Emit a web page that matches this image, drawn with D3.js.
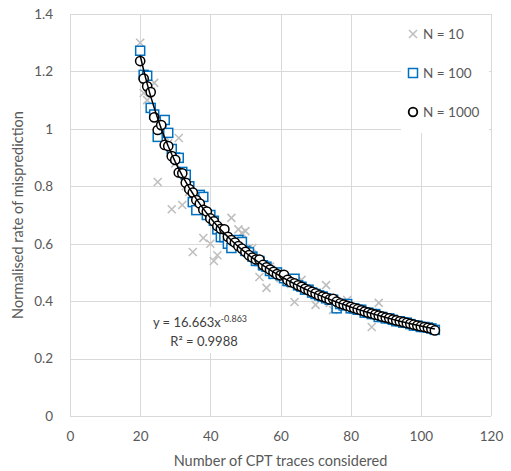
<!DOCTYPE html>
<html>
<head>
<meta charset="utf-8">
<script src="https://cdn.jsdelivr.net/npm/d3@7/dist/d3.min.js"></script>
<style>
  html, body { margin: 0; padding: 0; background: #fff; }
  svg { display: block; }
  text { font-family: Lato, "Open Sans", sans-serif; }
</style>
</head>
<body>
<svg id="chart" width="511" height="471"></svg>
<script>
// Number of CPT traces considered (x values shared by all three runs)
const traces = [20,21,22,23,24,25,26,27,28,29,30,31,32,33,34,35,36,37,38,39,
  40,41,42,43,44,45,46,47,48,49,50,51,52,53,54,55,56,57,58,59,
  60,61,62,63,64,65,66,67,68,69,70,71,72,73,74,75,76,77,78,79,
  80,81,82,83,84,85,86,87,88,89,90,91,92,93,94,95,96,97,98,99,
  100,101,102,103,104];

// Normalised misprediction rate, N = 10
const rateN10 = [1.300,1.125,1.100,1.130,1.160,0.815,1.000,0.975,0.950,0.720,
  0.880,0.968,0.735,0.800,0.780,0.571,0.760,0.730,0.620,0.710,
  0.600,0.540,0.560,0.650,0.640,0.600,0.690,0.610,0.650,0.637,
  0.644,0.585,0.585,0.550,0.484,0.520,0.446,0.520,0.490,0.500,
  0.480,0.490,0.470,0.460,0.397,0.460,0.474,0.440,0.440,0.430,
  0.387,0.420,0.420,0.456,0.394,0.369,0.400,0.390,0.390,0.404,
  0.380,0.370,0.375,0.365,0.360,0.355,0.310,0.355,0.394,0.345,
  0.340,0.340,0.335,0.330,0.330,0.325,0.320,0.320,0.315,0.315,
  0.310,0.310,0.305,0.305,0.300];

// Normalised misprediction rate, N = 100
const rateN100 = [1.272,1.188,1.185,1.073,1.050,0.972,1.000,1.031,0.986,0.930,
  0.900,0.899,0.850,0.840,0.800,0.745,0.717,0.770,0.763,0.700,
  0.700,0.680,0.650,0.623,0.623,0.600,0.585,0.610,0.613,0.606,
  0.575,0.570,0.555,0.540,0.540,0.525,0.520,0.505,0.495,0.500,
  0.490,0.480,0.470,0.468,0.478,0.455,0.450,0.440,0.440,0.430,
  0.425,0.420,0.416,0.410,0.405,0.405,0.375,0.390,0.385,0.390,
  0.375,0.375,0.370,0.370,0.360,0.360,0.355,0.355,0.345,0.345,
  0.340,0.340,0.335,0.330,0.330,0.325,0.325,0.320,0.315,0.315,
  0.310,0.310,0.308,0.305,0.300];

// Normalised misprediction rate, N = 1000
const rateN1000 = [1.236,1.175,1.148,1.128,1.040,0.996,1.013,0.944,0.940,0.905,
  0.892,0.848,0.845,0.812,0.790,0.778,0.752,0.740,0.718,0.712,
  0.688,0.678,0.662,0.652,0.650,0.624,0.613,0.604,0.592,0.583,
  0.572,0.560,0.552,0.545,0.545,0.526,0.518,0.510,0.502,0.494,
  0.490,0.492,0.474,0.466,0.462,0.455,0.450,0.443,0.438,0.432,
  0.427,0.420,0.416,0.412,0.406,0.408,0.398,0.392,0.388,0.384,
  0.380,0.376,0.372,0.368,0.364,0.360,0.357,0.353,0.350,0.346,
  0.343,0.340,0.336,0.333,0.330,0.327,0.324,0.321,0.318,0.315,
  0.312,0.310,0.307,0.304,0.298];

// Power trendline fitted to the N = 1000 run
const fitA = 16.663, fitB = -0.863, fitR2 = 0.9988;

const xTicks = [0, 20, 40, 60, 80, 100, 120];
const yTicks = [0, 0.2, 0.4, 0.6, 0.8, 1, 1.2, 1.4];
const seriesNames = ["N = 10", "N = 100", "N = 1000"];

const svg = d3.select("#chart");
const plot = { left: 70, right: 491, top: 14, bottom: 416 };

const x = d3.scaleLinear().domain([0, 120]).range([plot.left, plot.right]);
const y = d3.scaleLinear().domain([0, 1.4]).range([plot.bottom, plot.top]);

const gridColor = "#d9d9d9";
const labelColor = "#595959";

// Gridlines
const grid = svg.append("g");
grid.selectAll("line.h").data(yTicks).join("line")
  .attr("x1", plot.left).attr("x2", plot.right)
  .attr("y1", d => Math.round(y(d)) + 0.5).attr("y2", d => Math.round(y(d)) + 0.5)
  .attr("stroke", gridColor).attr("stroke-width", 1);
grid.selectAll("line.v").data(xTicks).join("line")
  .attr("y1", plot.top).attr("y2", plot.bottom)
  .attr("x1", d => Math.round(x(d)) + 0.5).attr("x2", d => Math.round(x(d)) + 0.5)
  .attr("stroke", gridColor).attr("stroke-width", 1);

// Axes (labels only, lines come from the grid)
const xAxis = svg.append("g")
  .attr("transform", `translate(0,${plot.bottom + 12})`)
  .call(d3.axisBottom(x).tickValues(xTicks).tickSize(0).tickFormat(d3.format("d")));
const yAxis = svg.append("g")
  .attr("transform", `translate(${plot.left - 14},0)`)
  .call(d3.axisLeft(y).tickValues(yTicks).tickSize(0).tickFormat(d => String(d)));
[xAxis, yAxis].forEach(g => {
  g.select(".domain").remove();
  g.selectAll("text").attr("fill", labelColor).style("font-size", "13.5px")
    .style("font-family", "Lato, 'Open Sans', sans-serif");
});
xAxis.selectAll("text").attr("dy", "0.71em");

// Axis titles
svg.append("text")
  .attr("x", (plot.left + plot.right) / 2).attr("y", 466)
  .attr("text-anchor", "middle").attr("fill", labelColor)
  .style("font-size", "14.5px").text("Number of CPT traces considered");
svg.append("text")
  .attr("transform", `translate(23,${(plot.top + plot.bottom) / 2}) rotate(-90)`)
  .attr("text-anchor", "middle").attr("fill", labelColor)
  .style("font-size", "14.5px").text("Normalised rate of misprediction");

// Series markers
const crossPath = s => `M${-s},${-s}L${s},${s}M${-s},${s}L${s},${-s}`;

svg.append("g").selectAll("path").data(traces.map((t, i) => [t, rateN10[i]])).join("path")
  .attr("transform", d => `translate(${x(d[0])},${y(d[1])})`)
  .attr("d", crossPath(4))
  .attr("stroke", "#bfbfbf").attr("stroke-width", 1.6).attr("fill", "none");

svg.append("g").selectAll("rect").data(traces.map((t, i) => [t, rateN100[i]])).join("rect")
  .attr("x", d => x(d[0]) - 4.5).attr("y", d => y(d[1]) - 4.5)
  .attr("width", 9).attr("height", 9)
  .attr("stroke", "#0070c0").attr("stroke-width", 1.5).attr("fill", "#fff");

svg.append("g").selectAll("circle").data(traces.map((t, i) => [t, rateN1000[i]])).join("circle")
  .attr("cx", d => x(d[0])).attr("cy", d => y(d[1])).attr("r", 4.6)
  .attr("stroke", "#000").attr("stroke-width", 1.5).attr("fill", "#fff");

// Power trendline
const fitLine = d3.line().x(d => x(d)).y(d => y(fitA * Math.pow(d, fitB)));
svg.append("path").datum(traces)
  .attr("d", fitLine).attr("fill", "none")
  .attr("stroke", "#000").attr("stroke-width", 1.5);

// Trendline equation box
const eq = svg.append("g");
eq.append("rect").attr("x", 152).attr("y", 307).attr("width", 100).attr("height", 46).attr("fill", "#fff");
const eqText = eq.append("text").attr("x", 200).attr("y", 327)
  .attr("text-anchor", "middle").attr("fill", "#404040").style("font-size", "13px");
eqText.append("tspan").text(`y = ${fitA}x`);
eqText.append("tspan").attr("dy", -5).style("font-size", "9px").text(fitB);
eq.append("text").attr("x", 204).attr("y", 346)
  .attr("text-anchor", "middle").attr("fill", "#404040").style("font-size", "13px")
  .text(`R² = ${fitR2}`);

// Legend
const legend = svg.append("g");
legend.append("rect").attr("x", 401).attr("y", 15).attr("width", 88).attr("height", 118).attr("fill", "#fff");
const rows = legend.selectAll("g.item").data(seriesNames).join("g")
  .attr("transform", (d, i) => `translate(413,${34 + i * 39})`);
rows.each(function(d, i) {
  const g = d3.select(this);
  if (i === 0) {
    g.append("path").attr("d", crossPath(4)).attr("stroke", "#bfbfbf").attr("stroke-width", 1.6);
  } else if (i === 1) {
    g.append("rect").attr("x", -4.5).attr("y", -4.5).attr("width", 9).attr("height", 9)
      .attr("stroke", "#0070c0").attr("stroke-width", 1.5).attr("fill", "#fff");
  } else {
    g.append("circle").attr("r", 4.3).attr("stroke", "#000").attr("stroke-width", 1.8).attr("fill", "#fff");
  }
  g.append("text").attr("x", 10).attr("dy", "0.35em").attr("fill", labelColor)
    .style("font-size", "13.5px").text(d);
});
</script>
</body>
</html>
